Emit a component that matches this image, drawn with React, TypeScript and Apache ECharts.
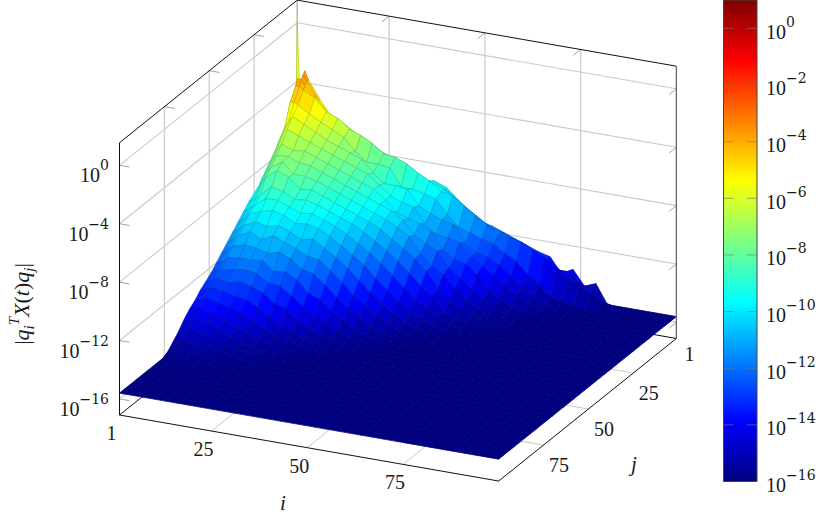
import React, { useEffect, useRef } from "react";
import * as echarts from "echarts";

const SERIF = '"Liberation Serif","DejaVu Serif",serif';
const WIDE = '"DejaVu Serif","Liberation Serif",serif';

// grid nodes of the surface (matrix indices)
const NODES = [1, 2, 3, 4, 7, 10, 13, 16, 19, 22, 25, 28, 31, 34, 37, 40, 43, 46, 49, 52, 55, 58, 61, 64, 67, 70, 73, 76, 79, 82, 85, 88, 91, 94, 97, 100];
// log10 |q_i^T X q_j| in tenths; one row per j node, omitted tail = floor
const FLOOR = -156;
const ROW_1 = [0, -68, -32, -38, -50, -60, -63, -68, -73, -77, -80, -83, -88, -94, -92, -95, -102, -108, -114, -116, -119, -122, -125, -128, -130, -140, -136, -146, -143];
const ROW_2 = [-90, -70, -34, -38, -50, -58, -62, -67, -72, -76, -79, -82, -87, -92, -91, -95, -101, -107, -113, -116, -118, -121, -124, -127, -130, -137, -137, -145, -144, -154];
const ROW_3 = [-55, -36, -36, -40, -47, -56, -60, -66, -71, -76, -78, -82, -86, -90, -91, -94, -100, -106, -112, -115, -117, -120, -123, -127, -130, -136, -138, -144, -146, -153];
const ROW_4 = [-62, -40, -40, -42, -46, -54, -57, -63, -66, -70, -76, -77, -80, -85, -89, -95, -96, -102, -107, -112, -118, -118, -120, -124, -128, -134, -140, -141, -147, -151];
const ROW_7 = [-64, -48, -48, -49, -54, -58, -62, -66, -74, -80, -80, -81, -93, -93, -95, -97, -106, -114, -116, -119, -121, -126, -130, -138, -143, -150, -152, -154];
const ROW_10 = [-72, -62, -58, -54, -58, -62, -66, -69, -72, -75, -83, -89, -89, -90, -100, -104, -107, -109, -120, -125, -127, -131, -137, -143, -148, -152, -154, -155];
const ROW_13 = [-76, -68, -62, -60, -63, -66, -69, -72, -75, -78, -81, -87, -93, -96, -98, -108, -114, -115, -117, -125, -130, -135, -140, -146, -150, -153, -155];
const ROW_16 = [-81, -74, -70, -67, -70, -69, -72, -75, -78, -81, -84, -87, -93, -100, -103, -105, -109, -120, -125, -127, -133, -142, -147, -151, -153, -154, -155];
const ROW_19 = [-85, -79, -75, -72, -71, -74, -75, -78, -81, -84, -87, -90, -93, -96, -101, -110, -114, -118, -128, -134, -140, -146, -150, -153, -154, -155];
const ROW_22 = [-90, -84, -80, -77, -72, -79, -79, -81, -84, -87, -90, -93, -96, -99, -103, -108, -118, -125, -130, -138, -145, -149, -153, -154, -155];
const ROW_25 = [-93, -91, -85, -81, -75, -78, -85, -84, -87, -90, -93, -96, -99, -103, -108, -113, -119, -126, -136, -144, -148, -151, -153, -154, -155];
const ROW_28 = [-96, -94, -92, -90, -83, -85, -89, -88, -90, -93, -96, -99, -103, -108, -113, -119, -126, -133, -139, -148, -152, -153, -154, -155];
const ROW_31 = [-100, -98, -96, -94, -88, -88, -91, -94, -93, -96, -99, -103, -108, -113, -119, -126, -133, -139, -144, -149, -152, -154, -155];
const ROW_34 = [-104, -102, -100, -97, -94, -92, -94, -98, -97, -99, -103, -108, -113, -119, -126, -133, -139, -144, -149, -152, -154, -155];
const ROW_37 = [-108, -106, -104, -102, -98, -100, -98, -101, -105, -103, -108, -113, -119, -126, -133, -139, -144, -149, -152, -154, -155];
const ROW_40 = [-112, -110, -108, -106, -102, -106, -102, -105, -108, -112, -113, -119, -126, -133, -139, -144, -149, -152, -154, -155];
const ROW_43 = [-116, -114, -112, -110, -108, -109, -111, -109, -112, -118, -120, -126, -133, -139, -144, -149, -152, -154, -155];
const ROW_46 = [-120, -119, -118, -115, -114, -114, -113, -119, -118, -122, -130, -133, -139, -144, -149, -152, -154, -155];
const ROW_49 = [-124, -122, -121, -121, -119, -118, -119, -124, -125, -130, -136, -142, -144, -149, -152, -154, -155];
const ROW_52 = [-127, -126, -125, -124, -125, -123, -125, -128, -134, -136, -142, -147, -150, -152, -154, -155];
const ROW_55 = [-130, -129, -128, -127, -128, -130, -131, -135, -140, -145, -147, -151, -152, -154, -155];
const ROW_58 = [-134, -133, -132, -131, -133, -135, -137, -141, -145, -149, -151, -152, -154, -155];
const ROW_61 = [-137, -136, -135, -135, -137, -140, -144, -146, -150, -152, -153, -154, -155];
const ROW_64 = [-141, -141, -139, -138, -141, -143, -147, -150, -152, -153, -154, -155];
const ROW_67 = [-146, -145, -144, -143, -145, -147, -149, -152, -152, -154, -155];
const ROW_70 = [-150, -150, -149, -148, -150, -150, -151, -153, -154, -155];
const ROW_73 = [-154, -153, -153, -152, -152, -153, -154, -155];
const ROW_76 = [-156, -155, -155, -154, -154, -155, -155];
const ROW_79 = [-156, -156, -156, -156, -155];
const SURFACE_ROWS = [ROW_1, ROW_2, ROW_3, ROW_4, ROW_7, ROW_10, ROW_13, ROW_16, ROW_19, ROW_22, ROW_25, ROW_28, ROW_31, ROW_34, ROW_37, ROW_40, ROW_43, ROW_46, ROW_49, ROW_52, ROW_55, ROW_58, ROW_61, ROW_64, ROW_67, ROW_70, ROW_73, ROW_76, ROW_79];

const I_TICKS = [1, 25, 50, 75];
const J_TICKS = [1, 25, 50, 75];
const Z_TICKS = [0, -4, -8, -12, -16];
const JET = ["#00007f", "#0000ff", "#00ffff", "#ffff00", "#ff0000", "#7f0000"];
const JET_POS = [0, 0.125, 0.375, 0.625, 0.875, 1];

const Z_BOTTOM = -17.1;
const Z_TOP = 1.55;

function project(i: number, j: number, z: number): number[] {
  return [
    119.5 + (i - 1) * 3.83 + (100 - j) * 1.795,
    415 + (i - 1) * 0.667 + (j - 100) * 1.44 - (z - Z_BOTTOM) * 14.6,
  ];
}

function nodeZ(a: number, b: number): number {
  const row = SURFACE_ROWS[b];
  const v = row && row[a] !== undefined ? row[a] : FLOOR;
  return v / 10;
}

function hexRgb(h: string) {
  return [parseInt(h.slice(1, 3), 16), parseInt(h.slice(3, 5), 16), parseInt(h.slice(5, 7), 16)];
}
function jet(t: number, dim = 1): string {
  const x = Math.max(0, Math.min(1, t));
  let k = 0;
  while (k < JET_POS.length - 2 && x > JET_POS[k + 1]) k++;
  const f = (x - JET_POS[k]) / (JET_POS[k + 1] - JET_POS[k]);
  const p = hexRgb(JET[k]);
  const q = hexRgb(JET[k + 1]);
  const c = p.map((v, n) => Math.round((v + (q[n] - v) * f) * dim));
  return `rgb(${c[0]},${c[1]},${c[2]})`;
}

type Seg = { p: number[][]; color: string; w: number };
const gridCol = "#c9c9c9";
const tickCol = "#8c8c8c";

function backSegments(): Seg[] {
  const s: Seg[] = [];
  const L = (a: number[], b: number[], color: string, w: number) => s.push({ p: [a, b], color, w });
  Z_TICKS.forEach((z) => {
    L(project(1, 100, z), project(1, 1, z), gridCol, 1.1);
    L(project(1, 1, z), project(100, 1, z), gridCol, 1.1);
  });
  I_TICKS.slice(1).forEach((i) => {
    L(project(i, 1, Z_BOTTOM), project(i, 1, Z_TOP), "#d0d0d0", 1.4);
    L(project(i, 1, Z_BOTTOM), project(i, 100, Z_BOTTOM), gridCol, 1);
    L(project(i, 1, Z_TOP), project(i, 5, Z_TOP), tickCol, 0.8);
  });
  J_TICKS.slice(1).forEach((j) => {
    L(project(1, j, Z_BOTTOM), project(1, j, Z_TOP), "#d0d0d0", 1.4);
    L(project(1, j, Z_BOTTOM), project(100, j, Z_BOTTOM), gridCol, 1);
    L(project(1, j, Z_TOP), project(3.6, j, Z_TOP), tickCol, 0.8);
  });
  L(project(1, 1, Z_BOTTOM), project(1, 1, Z_TOP), "#b0b0b0", 1.4);
  L(project(1, 100, Z_BOTTOM), project(1, 1, Z_BOTTOM), "#111", 1);
  L(project(1, 1, Z_BOTTOM), project(100, 1, Z_BOTTOM), "#111", 1);
  return s;
}

function frontSegments(): Seg[] {
  const s: Seg[] = [];
  const L = (a: number[], b: number[], color: string, w: number) => s.push({ p: [a, b], color, w });
  Z_TICKS.forEach((z) => {
    L(project(1, 100, z), project(3.6, 100, z), tickCol, 0.8);
    L(project(100, 1, z), project(100, 5, z), tickCol, 0.8);
  });
  L(project(1, 100, Z_BOTTOM), project(1, 100, Z_TOP), "#111", 1);
  L(project(1, 100, Z_TOP), project(1, 1, Z_TOP), "#111", 1);
  L(project(1, 1, Z_TOP), project(100, 1, Z_TOP), "#111", 1);
  L(project(100, 1, Z_BOTTOM), project(100, 1, Z_TOP), "#666", 1.3);
  L(project(1, 100, Z_BOTTOM), project(100, 100, Z_BOTTOM), "#111", 1);
  L(project(100, 100, Z_BOTTOM), project(100, 1, Z_BOTTOM), "#111", 1);
  return s;
}

const richNum = {
  b: { fontFamily: SERIF, fontSize: 20, lineHeight: 27, verticalAlign: "bottom", fill: "#1a1a1a", color: "#1a1a1a" },
  s: { fontFamily: WIDE, fontSize: 14, lineHeight: 27, verticalAlign: "top", fill: "#1a1a1a", color: "#1a1a1a" },
};
const powerText = (e: number) => `{b|10}{s|${String(e).replace("-", "\u2212")}}`;

type Lab = { x: number; y: number; text: string; align: string; rich?: any; font?: string; rot?: number };
function labels(): Lab[] {
  const out: Lab[] = [];
  const font = `20px ${SERIF}`;
  Z_TICKS.forEach((z) => {
    const p = project(1, 100, z);
    out.push({ x: 109, y: p[1] + 6.5, text: powerText(z), align: "right", rich: richNum });
  });
  I_TICKS.forEach((i) => {
    const p = project(i, 100, Z_BOTTOM);
    out.push({ x: p[0] - 8, y: p[1] + 18, text: String(i), align: "center", font });
  });
  J_TICKS.forEach((j) => {
    const p = project(100, j, Z_BOTTOM);
    out.push({ x: p[0] + (j === 1 ? 13 : 15.5), y: p[1] + (j === 1 ? 16 : 19.5), text: String(j), align: "center", font });
  });
  out.push({ x: 283, y: 503, text: "i", align: "center", font: `italic 21px ${SERIF}` });
  out.push({ x: 634, y: 464, text: "j", align: "center", font: `italic 21px ${SERIF}` });
  const r = { fontFamily: SERIF, fill: "#1a1a1a", color: "#1a1a1a", lineHeight: 30 };
  out.push({
    x: 21,
    y: 304,
    text: "{b||}{it|q}{sub|i}{sup|T}{it|X}{b|(}{it|t}{b|)}{it|q}{sub|j}{b||}",
    align: "center",
    rot: Math.PI / 2,
    rich: {
      b: { ...r, fontSize: 22, verticalAlign: "middle" },
      it: { ...r, fontSize: 22, fontStyle: "italic", verticalAlign: "middle" },
      sub: { ...r, fontSize: 15, fontStyle: "italic", verticalAlign: "bottom" },
      sup: { ...r, fontSize: 15, fontStyle: "italic", verticalAlign: "top" },
    },
  });
  return out;
}

export default function App() {
  const ref = useRef<HTMLDivElement>(null);
  useEffect(() => {
    const chart = echarts.init(ref.current!, null, { renderer: "svg" });
    const cells: number[][] = [];
    for (let b = 0; b < NODES.length - 1; b++) {
      for (let a = 0; a < NODES.length - 1; a++) cells.push([a, b]);
    }
    const back = backSegments();
    const front = frontSegments();
    const labs = labels();
    const renderSeg = (list: Seg[]) => (params: any, api: any) => {
      const s = list[params.dataIndex];
      const a = api.coord(s.p[0]);
      const b = api.coord(s.p[1]);
      return {
        type: "line",
        shape: { x1: a[0], y1: a[1], x2: b[0], y2: b[1] },
        style: { stroke: s.color, lineWidth: s.w, fill: "none" },
      };
    };
    const colorbarTicks = [-14, -12, -10, -8, -6, -4, -2, 0];
    const option: any = {
      animation: false,
      backgroundColor: "#ffffff",
      grid: [
        { left: 0, top: 0, width: 830, height: 518 },
        { left: 723.5, top: 0, width: 33.5, height: 481.5 },
      ],
      xAxis: [
        { type: "value", gridIndex: 0, min: 0, max: 830, show: false },
        { type: "value", gridIndex: 1, min: 0, max: 1, show: false },
      ],
      yAxis: [
        { type: "value", gridIndex: 0, min: 0, max: 518, inverse: true, show: false },
        {
          type: "value",
          gridIndex: 1,
          min: -16,
          max: 1,
          interval: 2,
          position: "right",
          axisLine: { show: false },
          axisTick: { show: false },
          splitLine: { show: false },
          axisLabel: {
            show: true,
            margin: 9,
            showMaxLabel: false,
            formatter: (v: number) => (v === 1 ? "" : powerText(v)),
            rich: richNum,
          },
        },
      ],
      series: [
        {
          type: "custom",
          name: "back",
          silent: true,
          clip: false,
          z: 1,
          data: back.map((_, n) => [n]),
          renderItem: renderSeg(back),
        },
        {
          type: "custom",
          name: "surface",
          silent: true,
          clip: false,
          z: 2,
          data: cells,
          renderItem: (params: any, api: any) => {
            const a = api.value(0);
            const b = api.value(1);
            const zs = [nodeZ(a, b), nodeZ(a + 1, b), nodeZ(a + 1, b + 1), nodeZ(a, b + 1)];
            const ids = [
              [a, b],
              [a + 1, b],
              [a + 1, b + 1],
              [a, b + 1],
            ];
            const pts = ids.map((q, n) => api.coord(project(NODES[q[0]], NODES[q[1]], zs[n])));
            const mean = (zs[0] + zs[1] + zs[2] + zs[3]) / 4;
            const t = (mean + 15.6) / 16.6;
            const flat = mean <= -15.3;
            return {
              type: "polygon",
              shape: { points: pts },
              style: { fill: jet(t), stroke: jet(t, flat ? 1 : 0.78), lineWidth: flat ? 0.8 : 0.6 },
            };
          },
        },
        {
          type: "custom",
          name: "front",
          silent: true,
          clip: false,
          z: 3,
          data: front.map((_, n) => [n]),
          renderItem: renderSeg(front),
        },
        {
          type: "custom",
          name: "labels",
          silent: true,
          clip: false,
          z: 4,
          data: labs.map((_, n) => [n]),
          renderItem: (params: any, api: any) => {
            const l = labs[params.dataIndex];
            const c = api.coord([l.x, l.y]);
            return {
              type: "text",
              x: c[0],
              y: c[1],
              rotation: l.rot || 0,
              style: {
                text: l.text,
                font: l.font,
                rich: l.rich,
                fill: "#1a1a1a",
                align: l.align,
                verticalAlign: "middle",
                textAlign: l.align,
                textVerticalAlign: "middle",
              },
            };
          },
        },
        {
          type: "custom",
          name: "colorbar",
          silent: true,
          clip: false,
          z: 2,
          xAxisIndex: 1,
          yAxisIndex: 1,
          data: [[0, 1, -16]],
          renderItem: (_p: any, api: any) => {
            const tl = api.coord([0, api.value(1)]);
            const br = api.coord([1, api.value(2)]);
            return {
              type: "rect",
              shape: { x: tl[0], y: tl[1], width: br[0] - tl[0], height: br[1] - tl[1] },
              style: {
                stroke: "#444",
                lineWidth: 1,
                fill: new echarts.graphic.LinearGradient(
                  0,
                  1,
                  0,
                  0,
                  JET.map((color, n) => ({ offset: JET_POS[n], color }))
                ),
              },
            };
          },
        },
        {
          type: "custom",
          name: "colorbarTicks",
          silent: true,
          clip: false,
          z: 3,
          xAxisIndex: 1,
          yAxisIndex: 1,
          data: colorbarTicks.flatMap((v) => [
            [0, 0.3, v],
            [0.7, 1, v],
          ]),
          renderItem: (_p: any, api: any) => {
            const a = api.coord([api.value(0), api.value(2)]);
            const b = api.coord([api.value(1), api.value(2)]);
            return {
              type: "line",
              shape: { x1: a[0], y1: a[1], x2: b[0], y2: b[1] },
              style: { stroke: "rgba(120,120,120,0.8)", lineWidth: 0.8 },
            };
          },
        },
      ],
    };
    chart.setOption(option);
    return () => chart.dispose();
  }, []);
  return <div ref={ref} style={{ position: "absolute", left: 0, top: 0, width: 830, height: 518 }} />;
}
